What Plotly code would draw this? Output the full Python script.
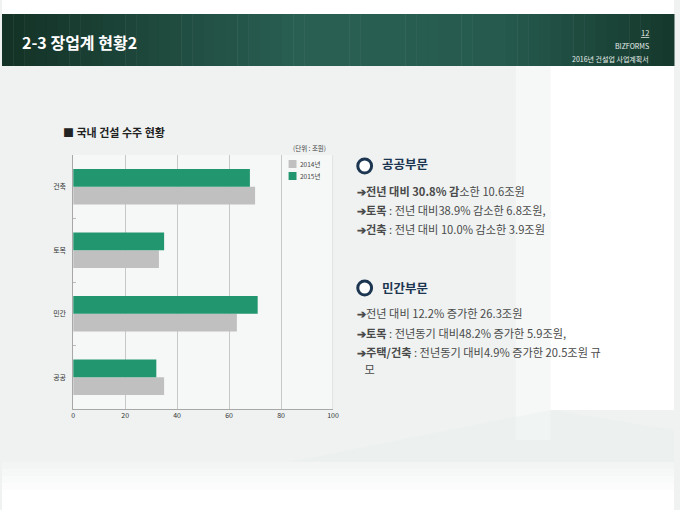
import plotly.graph_objects as go

W, H = 680, 510

categories = ["공공", "민간", "토목", "건축"]
series_names = ["2014년", "2015년"]
values_2014 = [35, 63, 33, 70]
values_2015 = [32, 71, 35, 68]
x_ticks = [0, 20, 40, 60, 80, 100]

page_title = "2-3 장업계 현황2"
chart_title = "■ 국내 건설 수주 현황"
unit_label = "(단위 : 조원)"
page_no = "12"
brand = "BIZFORMS"
doc_name = "2016년 건설업 사업계획서"

sections = [
    ("공공부문", [
        "<b>➔전년 대비 30.8% 감</b>소한 10.6조원",
        "<b>➔토목</b> : 전년 대비38.9% 감소한 6.8조원,",
        "<b>➔건축</b> : 전년 대비 10.0% 감소한 3.9조원",
    ]),
    ("민간부문", [
        "<b>➔</b>전년 대비 12.2% 증가한 26.3조원",
        "<b>➔토목</b> : 전년동기 대비48.2% 증가한 5.9조원,",
        "<b>➔주택/건축</b> : 전년동기 대비4.9% 증가한 20.5조원 규",
        "   모",
    ]),
]

FONT = "Noto Sans CJK KR"
GREEN = "#22966f"
GRAY = "#c0c0c0"
COLORS = [GRAY, GREEN]


def px(x):
    return x / W


def py(y):
    return 1 - y / H


fig = go.Figure()
for name, vals, col in zip(series_names, [values_2014, values_2015], COLORS):
    fig.add_trace(go.Bar(y=categories, x=vals, name=name, orientation="h",
                         marker=dict(color=col, line=dict(width=0)), showlegend=False))

shapes = []
# background decoration (soft light areas)
shapes.append(dict(type="rect", xref="paper", yref="paper", x0=px(0), x1=px(680),
                   y0=py(14), y1=py(0), fillcolor="#ffffff", line_width=0, layer="below"))
shapes.append(dict(type="rect", xref="paper", yref="paper", x0=px(520), x1=px(555),
                   y0=py(440), y1=py(66), fillcolor="#f6f8f7", line_width=0, layer="below"))
shapes.append(dict(type="rect", xref="paper", yref="paper", x0=px(555), x1=px(680),
                   y0=py(410), y1=py(66), fillcolor="#ffffff", line_width=0, layer="below"))
shapes.append(dict(type="path", xref="paper", yref="paper",
                   path="M %f,%f L %f,%f L %f,%f L %f,%f Z" % (px(250), py(470), px(555), py(410),
                                                              px(680), py(430), px(680), py(470)),
                   fillcolor="#e9eded", opacity=0.4, line_width=0, layer="below"))
for i, c in enumerate(["#f3f5f4", "#f6f8f7", "#f9fafa", "#fcfcfc", "#ffffff"]):
    shapes.append(dict(type="rect", xref="paper", yref="paper", x0=px(0), x1=px(680),
                       y0=py(510), y1=py(462 + i * 7), fillcolor=c, line_width=0, layer="below"))

# header gradient strips
stops = [(0, (20, 50, 38)), (0.45, (42, 96, 84)), (0.75, (38, 90, 78)), (1.0, (22, 56, 44))]


def grad(t):
    for (a, ca), (b, cb) in zip(stops[:-1], stops[1:]):
        if a <= t <= b:
            f = (t - a) / (b - a)
            return tuple(int(ca[i] + (cb[i] - ca[i]) * f) for i in range(3))
    return stops[-1][1]


N = 60
for i in range(N):
    c = grad((i + 0.5) / N)
    shapes.append(dict(type="rect", xref="paper", yref="paper",
                       x0=px(W * i / N), x1=px(W * (i + 1) / N + 0.5),
                       y0=py(66), y1=py(14), fillcolor="rgb(%d,%d,%d)" % c,
                       line_width=0, layer="below"))

# section ring icons
ring_y = [166, 288]
for ry in ring_y:
    shapes.append(dict(type="circle", xref="paper", yref="paper",
                       x0=px(360), x1=px(374), y0=py(ry + 7), y1=py(ry - 7),
                       line=dict(color="#1c3550", width=3), fillcolor="rgba(255,255,255,0.9)"))

# manual legend swatches
leg_y = [164, 176]
for col, ly in zip(COLORS, leg_y):
    shapes.append(dict(type="rect", xref="paper", yref="paper",
                       x0=px(290), x1=px(298), y0=py(ly + 4), y1=py(ly - 4),
                       fillcolor=col, line_width=0))

annotations = []


def txt(x, y, s, size, color="#333333", anchor="left", bold=False):
    annotations.append(dict(xref="paper", yref="paper", x=px(x), y=py(y), text=("<b>%s</b>" % s) if bold else s,
                            showarrow=False, xanchor=anchor, yanchor="middle",
                            font=dict(family=FONT, size=size, color=color)))


txt(18, 42, page_title, 16, "#ffffff", bold=True)
txt(657, 33, "<u>%s</u>" % page_no, 7.5, "#e8efec", anchor="right")
txt(657, 46, brand, 7, "#e8efec", anchor="right")
txt(657, 59, doc_name, 7, "#e8efec", anchor="right")

txt(60, 132, chart_title, 11, "#222222", bold=True)
txt(330, 148, unit_label, 6.5, "#444444", anchor="right")
for name, ly in zip(series_names, leg_y):
    txt(300, ly, name, 6.5, "#444444")

head_y = [164, 287]
line_ys = [[191, 210, 229], [313, 333, 352, 369]]
for (head, lines), hy, lys in zip(sections, head_y, line_ys):
    txt(383, hy, head, 12.5, "#1c3550", bold=True)
    for s, ly in zip(lines, lys):
        txt(357, ly, s, 11.2, "#4a4a4a")

fig.update_layout(
    width=W, height=H,
    margin=dict(l=0, r=0, t=0, b=0),
    paper_bgcolor="#eff2f1",
    plot_bgcolor="rgba(255,255,255,0.45)",
    barmode="group",
    bargap=0.44,
    bargroupgap=0,
    font=dict(family=FONT),
    shapes=shapes,
    annotations=annotations,
    xaxis=dict(domain=[px(72), px(335)], range=[0, 100], tickvals=x_ticks,
               showgrid=True, gridcolor="#c8c8c8", gridwidth=1,
               showline=True, linecolor="#a8a8a8", linewidth=1, zeroline=False,
               ticks="", tickfont=dict(family=FONT, size=7, color="#333333")),
    yaxis=dict(domain=[py(409), py(155)], showgrid=False,
               showline=True, linecolor="#a8a8a8", linewidth=1,
               ticks="inside", tickson="boundaries", ticklen=3, tickcolor="#bbbbbb",
               tickfont=dict(family=FONT, size=7, color="#333333"), ticksuffix="   "),
)

# right border of plot at the 100 tick
fig.add_shape(type="line", xref="x", yref="paper", x0=100, x1=100,
              y0=py(409), y1=py(155), line=dict(color="#c8c8c8", width=1))

fig.write_html("out.html", config={"displayModeBar": False},
               post_script="document.body.style.margin='0';document.body.style.padding='0';")
